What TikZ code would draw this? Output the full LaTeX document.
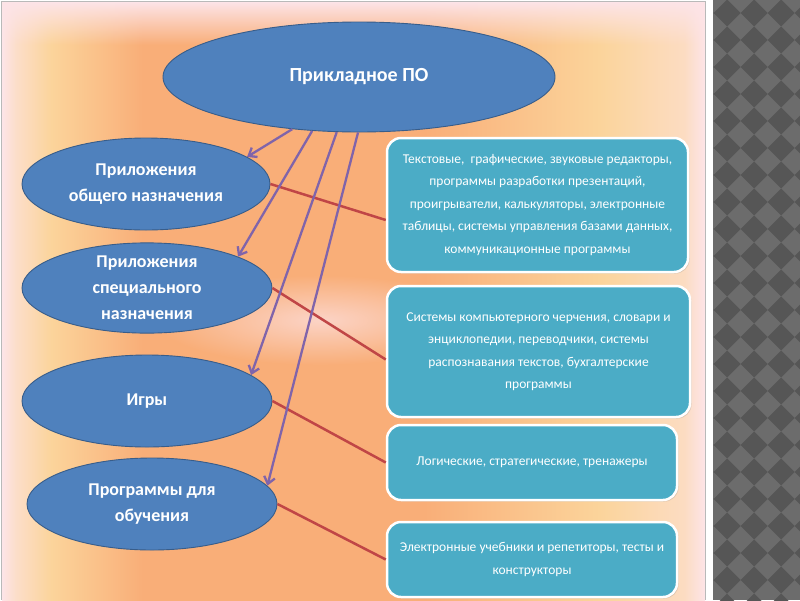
\documentclass[tikz,border=0pt]{standalone}
\usepackage{fontspec}
\setmainfont{Carlito}
\usetikzlibrary{shapes.geometric,arrows.meta,shadows,fadings}

\definecolor{ellfill}{RGB}{79,129,189}
\definecolor{ellline}{RGB}{56,93,138}
\definecolor{boxfill}{RGB}{75,172,198}
\definecolor{purp}{RGB}{128,100,170}
\definecolor{redl}{RGB}{192,70,70}
\definecolor{bgpink}{RGB}{253,228,232}
\definecolor{bgyel}{RGB}{251,212,155}
\definecolor{bgora}{RGB}{249,174,120}
\definecolor{chkdark}{RGB}{86,86,86}
\definecolor{chklight}{RGB}{108,108,108}

\pgfdeclarehorizontalshading{slidebg}{100bp}{color(0bp)=(bgpink); color(25bp)=(bgpink); color(26bp)=(bgpink!60!bgyel); color(28.5bp)=(bgyel); color(35bp)=(bgora); color(55bp)=(bgora); color(67.5bp)=(bgyel); color(73.5bp)=(bgpink!50!bgyel); color(75bp)=(bgpink); color(100bp)=(bgpink)}
\tikzfading[name=topfade, top color=transparent!0, bottom color=transparent!100]
\tikzfading[name=softspot, inner color=transparent!30, outer color=transparent!100]

\tikzset{
  ell/.style={ellipse, draw=ellline, line width=0.9pt, fill=ellfill, text=white,
    font=\fontsize{18}{26}\selectfont\bfseries, align=center, inner sep=0pt},
  infobox/.style={rectangle, rounded corners=14pt, draw=white, line width=2.5pt,
    fill=boxfill, text=white, font=\fontsize{13.5}{22.5}\selectfont, align=center,
    inner sep=0pt, drop shadow={shadow xshift=1.5pt, shadow yshift=-1.5pt, opacity=0.25}},
  purparrow/.style={draw=purp, line width=2.3pt, -{Straight Barb[length=7pt,width=11pt]}},
  redline/.style={draw=redl, line width=2.5pt}
}

\begin{document}
\begin{tikzpicture}[x=1pt,y=-1pt]
\useasboundingbox (0,0) rectangle (800,600);
\fill[white] (0,0) rectangle (800,600);

% slide background
\shade[shading=slidebg] (2,2) rectangle (705,600);
\fill[bgpink, path fading=topfade] (2,2) rectangle (705,45);
\fill[bgpink, path fading=softspot] (320,320) ellipse (165pt and 45pt);
\draw[gray!55, line width=0.8pt] (1.5,600) -- (1.5,1.5) -- (705,1.5) -- (705,600);

% checkered strip
\begin{scope}
  \clip (713,0) rectangle (800,600);
  \fill[chklight] (713,0) rectangle (800,600);
  \foreach \i in {-1,...,3} {
    \foreach \j in {-1,...,22} {
      \fill[chkdark] ({727+27*\i-13.5},{13+27*\j}) -- ++(13.5,-13.5) -- ++(13.5,13.5) -- ++(-13.5,13.5) -- cycle;
    }
  }
\end{scope}

% nodes
\node[ell, minimum width=392pt, minimum height=110pt, font=\fontsize{20}{24}\selectfont\bfseries] (top) at (359,77) {Прикладное ПО};
\node[ell, minimum width=248pt, minimum height=92pt] (e1) at (146,184) {Приложения\\общего назначения};
\node[ell, minimum width=250pt, minimum height=90pt] (e2) at (147,288) {Приложения\\специального\\назначения};
\node[ell, minimum width=250pt, minimum height=92pt] (e3) at (147,401) {Игры};
\node[ell, minimum width=250pt, minimum height=92pt] (e4) at (152,504) {Программы для\\обучения};

\node[infobox, minimum width=301pt, minimum height=134pt] (b1) at (537.5,205) {Текстовые,\ \ графические, звуковые редакторы,\\программы разработки презентаций,\\проигрыватели, калькуляторы, электронные\\таблицы, системы управления базами данных,\\коммуникационные программы};
\node[infobox, minimum width=303pt, minimum height=131pt] (b2) at (538.5,351.5) {Системы компьютерного черчения, словари и\\энциклопедии, переводчики, системы\\распознавания текстов, бухгалтерские\\программы};
\node[infobox, minimum width=290pt, minimum height=75pt] (b3) at (532,462.5) {Логические, стратегические, тренажеры};
\node[infobox, minimum width=290pt, minimum height=75pt] (b4) at (532,559.5) {Электронные учебники и репетиторы, тесты и\\конструкторы};

% red connectors
\draw[redline] (e1.east) -- ([yshift=-15pt]b1.west);
\draw[redline] (e2.east) -- ([yshift=-8pt]b2.west);
\draw[redline] (e3.east) -- (b3.west);
\draw[redline] (e4.east) -- (b4.west);

% purple arrows
\draw[purparrow] (top.218) -- (e1.15);
\draw[purparrow] (top.229) -- (e2.19);
\draw[purparrow] (top.248) -- (e3.14);
\draw[purparrow] (top.269) -- (e4.9);
\end{tikzpicture}
\end{document}
